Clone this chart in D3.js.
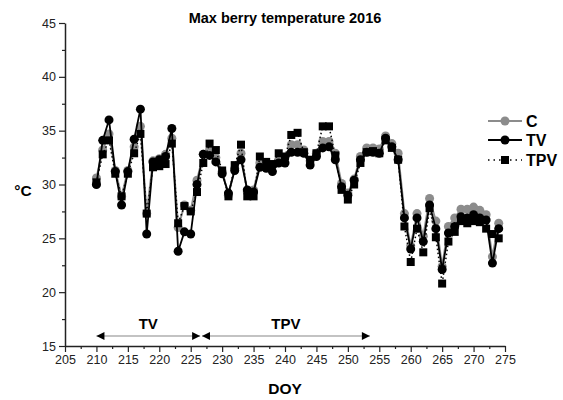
<!DOCTYPE html>
<html>
<head>
<meta charset="utf-8">
<script src="https://cdn.jsdelivr.net/npm/d3@7"></script>
<style>
  body { margin: 0; background: #fff; }
  svg { font-family: "Liberation Sans", Arial, sans-serif; }
</style>
</head>
<body>
<div id="chart"></div>
<script>
// --- Data ---
const days = d3.range(210, 275); // DOY 210..274

const seriesC = [30.6, 33.2, 34.7, 31.3, 28.9, 31.3, 33.5, 35.4, 27.3, 32.2,
  32.4, 32.8, 34.3, 26.0, 28.1, 27.6, 30.4, 32.8, 33.2, 32.5,
  31.2, 29.0, 31.5, 32.9, 29.3, 29.5, 32.0, 31.8, 31.8, 32.3,
  32.5, 33.7, 33.7, 33.2, 32.2, 32.9, 34.0, 34.0, 32.9, 30.1,
  29.2, 30.5, 32.6, 33.4, 33.4, 33.3, 34.5, 33.8, 32.9, 27.3,
  24.3, 27.3, 25.2, 28.7, 26.6, 22.4, 26.1, 26.9, 27.7, 27.7,
  27.9, 27.6, 27.2, 23.3, 26.4];

const seriesTV = [30.0, 34.1, 36.0, 31.2, 28.1, 31.2, 34.2, 37.0, 25.4, 32.1,
  32.3, 32.6, 35.2, 23.8, 25.6, 25.4, 30.0, 32.8, 32.7, 32.1,
  31.0, 29.2, 31.3, 32.3, 29.5, 29.3, 31.6, 31.5, 31.2, 32.0,
  32.0, 33.0, 33.0, 32.9, 31.8, 32.6, 33.4, 33.5, 32.3, 29.8,
  29.0, 30.4, 32.3, 33.0, 33.0, 32.9, 34.3, 33.5, 32.3, 26.9,
  24.0, 26.9, 24.7, 28.1, 25.9, 22.1, 25.5, 26.1, 27.0, 26.9,
  27.2, 26.9, 26.7, 22.7, 25.9];

const seriesTPV = [30.2, 32.8, 34.1, 31.0, 28.9, 31.0, 32.9, 34.7, 27.3, 31.6,
  31.7, 31.9, 33.8, 26.4, 28.0, 27.5, 29.3, 32.0, 33.8, 33.2,
  31.3, 28.9, 31.8, 33.7, 28.9, 28.9, 32.6, 32.1, 31.9, 32.9,
  32.6, 34.6, 34.8, 33.0, 32.3, 32.9, 35.4, 35.4, 32.7, 29.5,
  28.6, 30.0, 32.0, 33.0, 33.1, 32.9, 34.1, 33.4, 32.3, 26.1,
  22.8, 25.9, 23.7, 27.8, 25.1, 20.8, 24.7, 25.6, 26.6, 26.4,
  26.6, 26.5, 25.9, 25.4, 25.0];

const xTicks = d3.range(205, 276, 5);
const yTicks = d3.range(15, 46, 5);

// treatment periods shown as arrows under the data
const periodLabels = ['TV', 'TPV'];
const periodStart = [210, 226.8];
const periodEnd = [226.5, 253.5];

// --- Setup ---
const width = 563, height = 400;
const svg = d3.select('#chart').append('svg')
  .attr('width', width)
  .attr('height', height);

const x = d3.scaleLinear().domain([205, 275]).range([65, 505]);
const y = d3.scaleLinear().domain([15, 45]).range([346, 23]);

// --- Axes ---
const xMinor = d3.range(207.5, 275, 5);
const yMinor = d3.range(17.5, 45, 5);

const xAxis = svg.append('g')
  .attr('transform', `translate(0,${y(15)})`)
  .call(d3.axisBottom(x).tickValues(xTicks).tickSize(6).tickSizeOuter(0).tickPadding(3));
svg.append('g')
  .attr('transform', `translate(0,${y(15)})`)
  .call(d3.axisBottom(x).tickValues(xMinor).tickSize(3).tickFormat('').tickSizeOuter(0))
  .select('.domain').remove();

const yAxis = svg.append('g')
  .attr('transform', `translate(${x(205)},0)`)
  .call(d3.axisLeft(y).tickValues(yTicks).tickSize(6).tickSizeOuter(0).tickPadding(3));
svg.append('g')
  .attr('transform', `translate(${x(205)},0)`)
  .call(d3.axisLeft(y).tickValues(yMinor).tickSize(3).tickFormat('').tickSizeOuter(0))
  .select('.domain').remove();

svg.selectAll('.domain').attr('stroke', '#222').attr('stroke-width', 1.5);
svg.selectAll('.tick line').attr('stroke', '#222').attr('stroke-width', 1.2);
svg.selectAll('.tick text')
  .attr('font-size', 12.5)
  .attr('fill', '#222')
  .attr('font-family', '"Liberation Sans", Arial, sans-serif');

// --- Titles ---
svg.append('text')
  .attr('x', 285).attr('y', 23)
  .attr('text-anchor', 'middle')
  .attr('font-size', 14.5)
  .attr('font-weight', 'bold')
  .text('Max berry temperature 2016');

svg.append('text')
  .attr('x', 285).attr('y', 394)
  .attr('text-anchor', 'middle')
  .attr('font-size', 15.5)
  .attr('font-weight', 'bold')
  .text('DOY');

svg.append('text')
  .attr('x', 23).attr('y', 196)
  .attr('text-anchor', 'middle')
  .attr('font-size', 15.5)
  .attr('font-weight', 'bold')
  .text('°C');

// --- Period arrows ---
const defs = svg.append('defs');
defs.append('marker')
  .attr('id', 'arrow')
  .attr('viewBox', '0 0 10 10')
  .attr('refX', 10).attr('refY', 5)
  .attr('markerUnits', 'userSpaceOnUse')
  .attr('markerWidth', 9).attr('markerHeight', 8)
  .attr('orient', 'auto-start-reverse')
  .append('path')
  .attr('d', 'M0,0L10,5L0,10Z')
  .attr('fill', '#000');

const arrowY = 336;
periodLabels.forEach((lab, i) => {
  svg.append('line')
    .attr('x1', x(periodStart[i])).attr('x2', x(periodEnd[i]))
    .attr('y1', arrowY).attr('y2', arrowY)
    .attr('stroke', '#888')
    .attr('stroke-width', 1.2)
    .attr('marker-start', 'url(#arrow)')
    .attr('marker-end', 'url(#arrow)');
  svg.append('text')
    .attr('x', x((periodStart[i] + periodEnd[i]) / 2))
    .attr('y', 329)
    .attr('text-anchor', 'middle')
    .attr('font-size', 15)
    .attr('font-weight', 'bold')
    .text(lab);
});

// --- Series ---
const line = d3.line().x((d, i) => x(days[i])).y(d => y(d));

// C (gray, drawn behind)
svg.append('path')
  .datum(seriesC)
  .attr('d', line)
  .attr('fill', 'none')
  .attr('stroke', '#8c8c8c')
  .attr('stroke-width', 2);
svg.append('g').selectAll('circle')
  .data(seriesC).join('circle')
  .attr('cx', (d, i) => x(days[i]))
  .attr('cy', d => y(d))
  .attr('r', 4.5)
  .attr('fill', '#8c8c8c');

// TPV (dotted black with squares)
svg.append('path')
  .datum(seriesTPV)
  .attr('d', line)
  .attr('fill', 'none')
  .attr('stroke', '#000')
  .attr('stroke-width', 1.5)
  .attr('stroke-dasharray', '1.5,2.5');
const sq = 8;
svg.append('g').selectAll('rect')
  .data(seriesTPV).join('rect')
  .attr('x', (d, i) => x(days[i]) - sq / 2)
  .attr('y', d => y(d) - sq / 2)
  .attr('width', sq).attr('height', sq)
  .attr('fill', '#000');

// TV (solid black with circles)
svg.append('path')
  .datum(seriesTV)
  .attr('d', line)
  .attr('fill', 'none')
  .attr('stroke', '#000')
  .attr('stroke-width', 1.8);
svg.append('g').selectAll('circle')
  .data(seriesTV).join('circle')
  .attr('cx', (d, i) => x(days[i]))
  .attr('cy', d => y(d))
  .attr('r', 4.5)
  .attr('fill', '#000');

// --- Legend ---
const legendNames = ['C', 'TV', 'TPV'];
const legendY = [121, 140, 160];
const lx0 = 488, lx1 = 522;
legendNames.forEach((name, i) => {
  const g = svg.append('g');
  const ly = legendY[i];
  const color = name === 'C' ? '#8c8c8c' : '#000';
  g.append('line')
    .attr('x1', lx0).attr('x2', lx1)
    .attr('y1', ly).attr('y2', ly)
    .attr('stroke', color)
    .attr('stroke-width', name === 'TPV' ? 1.5 : 2)
    .attr('stroke-dasharray', name === 'TPV' ? '1.5,4' : null);
  if (name === 'TPV') {
    g.append('rect')
      .attr('x', (lx0 + lx1) / 2 - sq / 2).attr('y', ly - sq / 2)
      .attr('width', sq).attr('height', sq)
      .attr('fill', '#000');
  } else {
    g.append('circle')
      .attr('cx', (lx0 + lx1) / 2).attr('cy', ly)
      .attr('r', 4.5)
      .attr('fill', color);
  }
  g.append('text')
    .attr('x', lx1 + 4).attr('y', ly + 5.5)
    .attr('font-size', 16)
    .attr('font-weight', 'bold')
    .text(name);
});
</script>
</body>
</html>
